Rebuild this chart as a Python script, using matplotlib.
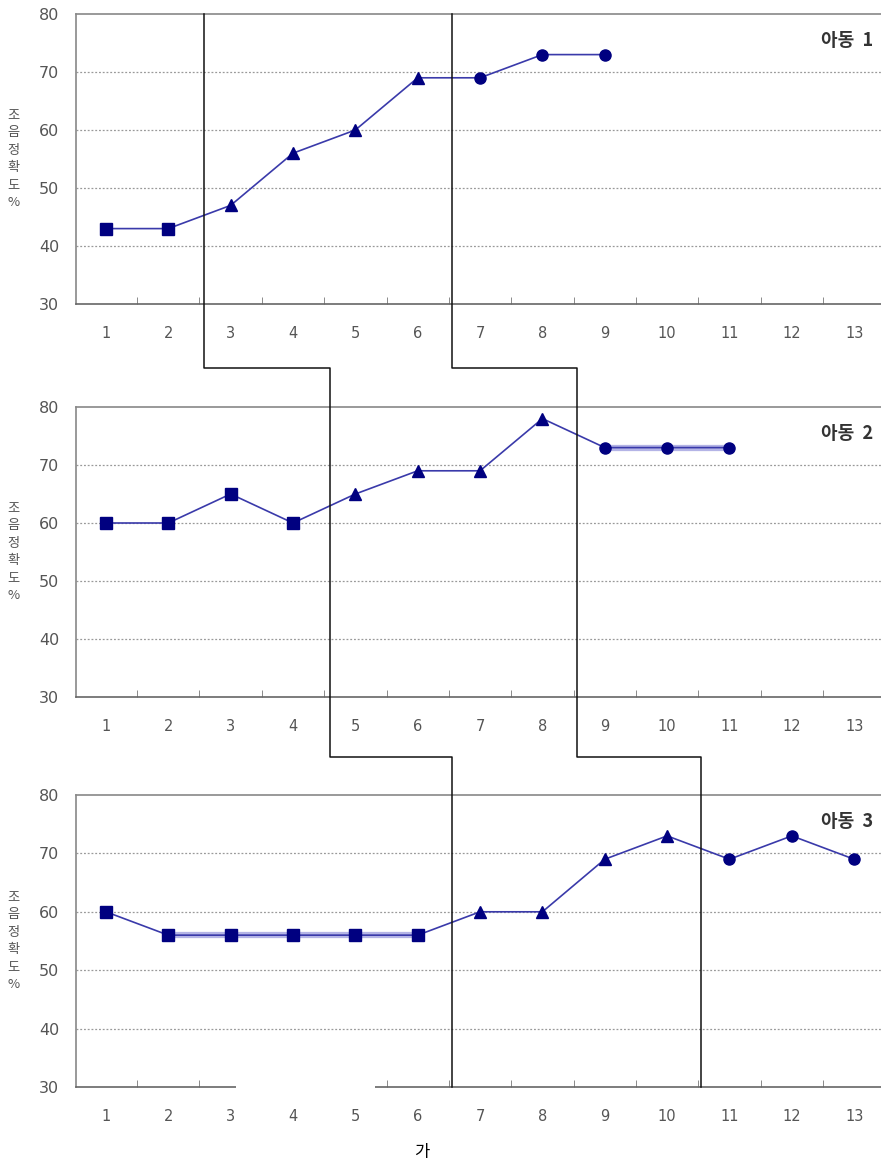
"""Three stacked line panels (아동 1-3) with phase-change step lines drawn across panels."""
import matplotlib
matplotlib.use("Agg")
import matplotlib.pyplot as plt
from matplotlib.lines import Line2D
from matplotlib.patches import Rectangle

plt.rcParams['font.family'] = ['DejaVu Sans', 'Noto Sans CJK KR']

sessions = list(range(1, 14))
tick_labels = [str(s) for s in sessions]
children = ["아동  1", "아동  2", "아동  3"]

# child 1
c1_base_x = [1, 2];          c1_base_y = [43, 43]
c1_treat_x = [3, 4, 5, 6];   c1_treat_y = [47, 56, 60, 69]
c1_keep_x = [7, 8, 9];       c1_keep_y = [69, 73, 73]
# child 2
c2_base_x = [1, 2, 3, 4];    c2_base_y = [60, 60, 65, 60]
c2_treat_x = [5, 6, 7, 8];   c2_treat_y = [65, 69, 69, 78]
c2_keep_x = [9, 10, 11];     c2_keep_y = [73, 73, 73]
# child 3
c3_base_x = [1, 2, 3, 4, 5, 6];  c3_base_y = [60, 56, 56, 56, 56, 56]
c3_treat_x = [7, 8, 9, 10];      c3_treat_y = [60, 60, 69, 73]
c3_keep_x = [11, 12, 13];        c3_keep_y = [69, 73, 69]

data = [
    (c1_base_x, c1_base_y, c1_treat_x, c1_treat_y, c1_keep_x, c1_keep_y),
    (c2_base_x, c2_base_y, c2_treat_x, c2_treat_y, c2_keep_x, c2_keep_y),
    (c3_base_x, c3_base_y, c3_treat_x, c3_treat_y, c3_keep_x, c3_keep_y),
]

# phase-change line positions (x in sessions) for each panel
phase_a = [2.58, 4.6, 6.55]
phase_b = [6.55, 8.56, 10.55]

MARK = "#000080"
LINE = "#3a3aaa"
HILITE = "#b4b4e6"
GRID = "#999999"
TXT = "#555555"

W, H = 881, 1169
fig = plt.figure(figsize=(W / 100, H / 100), dpi=100)

panel_px = [(14, 304), (407, 697), (795, 1087)]   # top/bottom pixel rows of each axes
left_px, right_px = 76, 881
axes = []
for top, bot in panel_px:
    ax = fig.add_axes([left_px / W, 1 - bot / H, (right_px - left_px) / W, (bot - top) / H])
    axes.append(ax)

for i, (ax, d) in enumerate(zip(axes, data)):
    bx, by, tx, ty, kx, ky = d
    allx = bx + tx + kx
    ally = by + ty + ky
    if i == 1:
        ax.plot(kx, ky, color=HILITE, lw=4.5, zorder=2, solid_capstyle="butt")
    if i == 2:
        ax.plot(bx[1:], by[1:], color=HILITE, lw=4.5, zorder=2, solid_capstyle="butt")
    ax.plot(allx, ally, color=LINE, lw=1.2, zorder=3)
    ax.plot(bx, by, ls="none", marker="s", ms=8.5, color=MARK, zorder=4)
    ax.plot(tx, ty, ls="none", marker="^", ms=9, color=MARK, zorder=4)
    ax.plot(kx, ky, ls="none", marker="o", ms=8, color=MARK, zorder=4)

    ax.set_xlim(0.52, 13.43)
    ax.set_ylim(30, 80)
    ax.set_yticks([30, 40, 50, 60, 70, 80])
    ax.set_xticks(sessions)
    ax.set_xticklabels(tick_labels)
    ax.set_xticks([s + 0.5 for s in sessions[:-1]], minor=True)
    ax.tick_params(axis="x", which="major", length=0, pad=16, labelsize=10.5, labelcolor=TXT)
    ax.tick_params(axis="x", which="minor", direction="in", length=5, color="#777777")
    ax.tick_params(axis="y", length=0, pad=12, labelsize=11.5, labelcolor=TXT)
    for y in [40, 50, 60, 70]:
        ax.axhline(y, color=GRID, lw=0.9, ls=(0, (1.5, 1.5)), zorder=1)
    for side in ["left", "top", "bottom"]:
        ax.spines[side].set_color("#888888")
        ax.spines[side].set_linewidth(1.2)
    ax.spines["bottom"].set_color("#666666")
    ax.spines["right"].set_visible(False)
    ax.text(0.99, 0.91, children[i], transform=ax.transAxes, ha="right", va="center",
            fontsize=13, fontweight="bold", color="#333333",
            family=["Noto Sans CJK KR", "DejaVu Sans"])
    ax.text(-0.078, 0.5, "조\n음\n정\n확\n도\n%", transform=ax.transAxes, ha="center",
            va="center", fontsize=9.5, color=TXT, linespacing=1.45,
            family=["Noto Sans CJK KR", "DejaVu Sans"])

# gap in the bottom panel's x axis (and its ticks), as in the scanned original
axes[2].add_patch(Rectangle((3.09, 29.6), 5.32 - 3.09, 2.0, facecolor="white",
                            edgecolor="none", zorder=5, clip_on=False))

# phase-change step lines spanning the panels
to_fig = fig.transFigure.inverted()


def fx(ax, x):
    return to_fig.transform(ax.transData.transform((x, 30)))[0]


step_y = [1 - 368 / H, 1 - 757 / H]
for xs in (phase_a, phase_b):
    x0, x1, x2 = fx(axes[0], xs[0]), fx(axes[1], xs[1]), fx(axes[2], xs[2])
    px = [x0, x0, x1, x1, x2, x2]
    py = [1 - 14 / H, step_y[0], step_y[0], step_y[1], step_y[1], 1 - 1087 / H]
    fig.add_artist(Line2D(px, py, color="#111111", lw=1.1, transform=fig.transFigure))

fig.text(422 / W, 1 - 1153 / H, "가", ha="center", va="center", fontsize=12,
         family=["Noto Sans CJK KR", "DejaVu Sans"])

fig.savefig("out.png", dpi=100)
